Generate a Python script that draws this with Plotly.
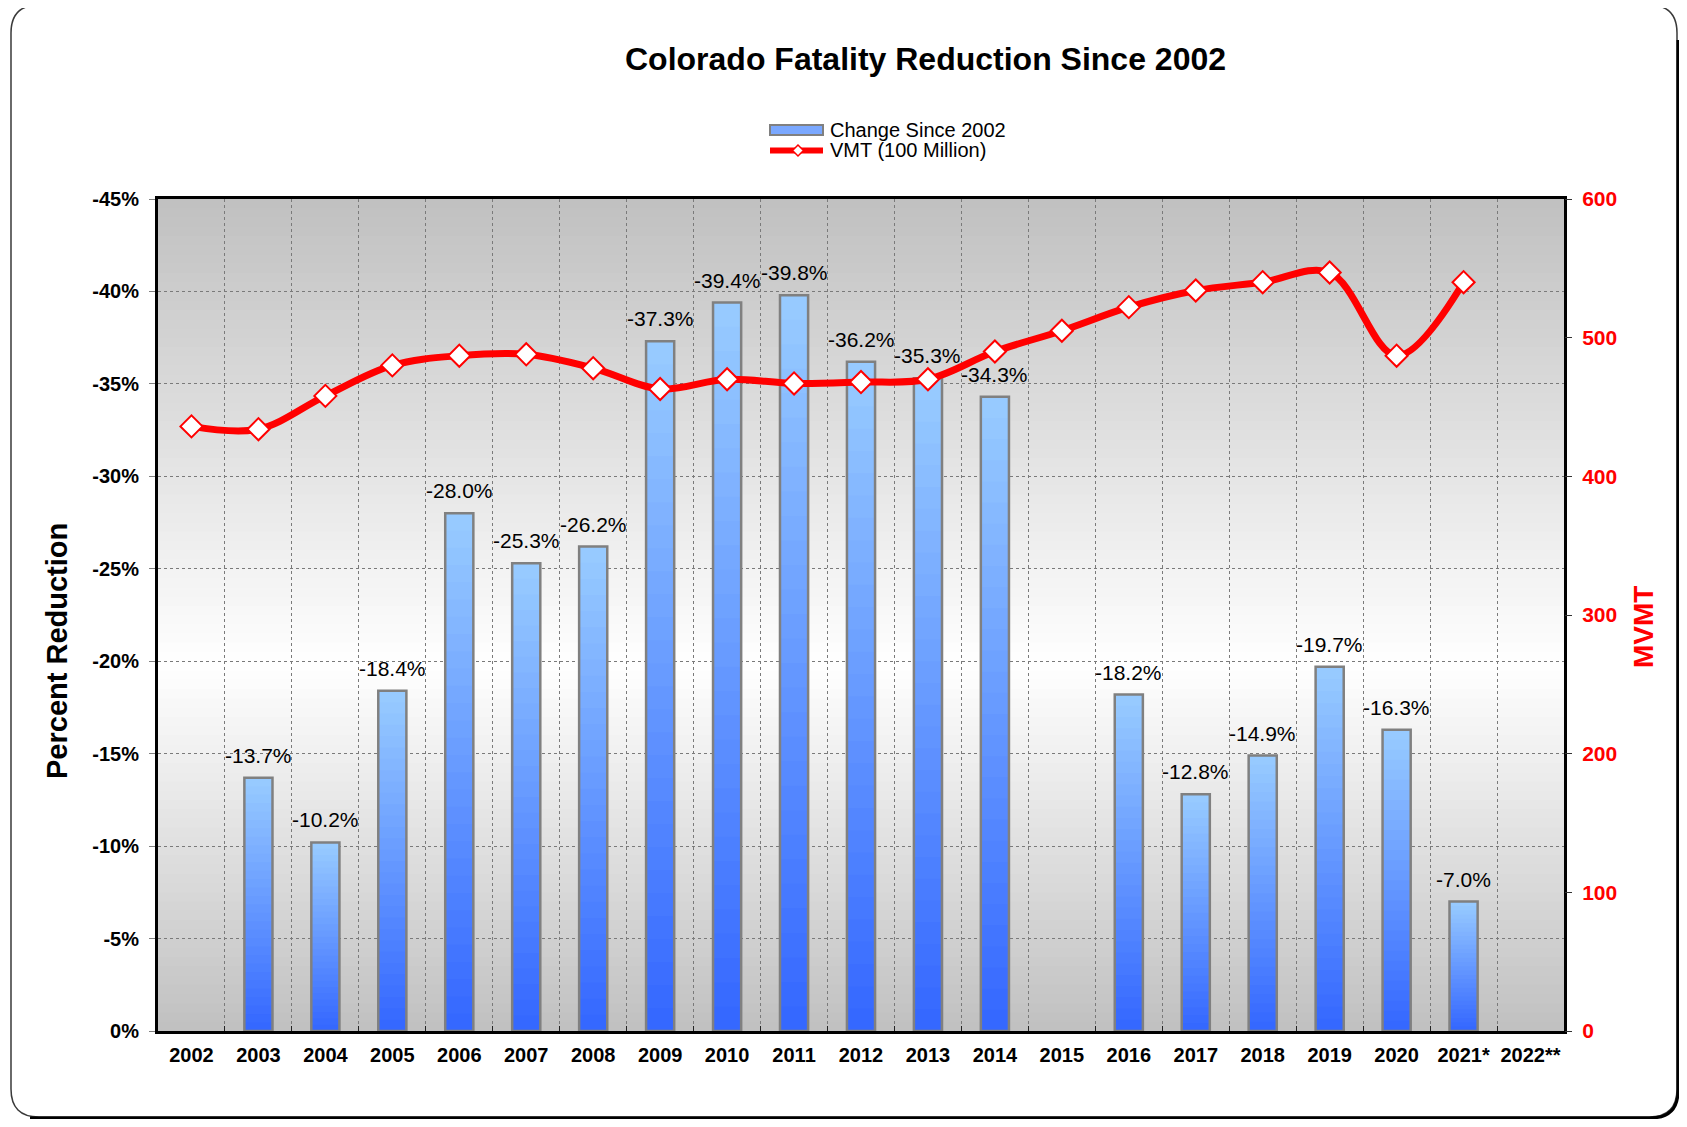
import plotly.graph_objects as go

# data
years = ["2002", "2003", "2004", "2005", "2006", "2007", "2008", "2009", "2010", "2011",
         "2012", "2013", "2014", "2015", "2016", "2017", "2018", "2019", "2020", "2021*", "2022**"]
change_since_2002 = [None, -13.7, -10.2, -18.4, -28.0, -25.3, -26.2, -37.3, -39.4, -39.8,
                     -36.2, -35.3, -34.3, None, -18.2, -12.8, -14.9, -19.7, -16.3, -7.0, None]
vmt_100m = [436, 434, 458, 480, 487, 488, 478, 463, 470, 467,
            468, 470, 490, 505, 522, 534, 540, 547, 487, 540, None]

pct_tick_vals = [0, -5, -10, -15, -20, -25, -30, -35, -40, -45]
pct_tick_text = ["0%", "-5%", "-10%", "-15%", "-20%", "-25%", "-30%", "-35%", "-40%", "-45%"]
mvmt_tick_vals = [0, 100, 200, 300, 400, 500, 600]

FONT = "Liberation Sans, Arial, sans-serif"
PAGE_W, PAGE_H = 1687, 1127
BODY = 8                             # default page margin around the figure
W, H = PAGE_W - 2 * BODY, PAGE_H - 2 * BODY
L, R, T, B = 158, 1564, 199, 1031    # plot area in screen pixels


def px_x(p):
    return (p - L) / (R - L)


def px_y(p):
    return (B - p) / (B - T)


def mix(c0, c1, t):
    return "rgb(%d,%d,%d)" % tuple(round(a + (b - a) * t) for a, b in zip(c0, c1))


fig = go.Figure()

# bars with a vertical gradient (light at top, dark at bottom), drawn as overlaid slices
bar_top, bar_bottom = (153, 204, 255), (51, 102, 255)
n_slices = 30
for k in range(n_slices, 0, -1):
    fig.add_trace(go.Bar(
        x=years,
        y=[None if v is None else v * k / n_slices for v in change_since_2002],
        marker=dict(color=mix(bar_bottom, bar_top, (k - 0.5) / n_slices), line=dict(width=0)),
        showlegend=False, hoverinfo="skip"
    ))
fig.add_trace(go.Bar(
    x=years, y=change_since_2002, name="Change Since 2002",
    marker=dict(color="rgba(0,0,0,0)", line=dict(color="#808080", width=2.5)),
    showlegend=False,
    hovertemplate="%{x}: %{y:.1f}%<extra></extra>"
))

fig.add_trace(go.Scatter(
    x=years, y=vmt_100m, name="VMT (100 Million)", yaxis="y2",
    mode="lines+markers",
    line=dict(color="#ff0000", width=7, shape="spline", smoothing=1.0),
    marker=dict(symbol="diamond", size=17, color="white", line=dict(color="#ff0000", width=2)),
    showlegend=False
))

annotations = []
for i, v in enumerate(change_since_2002):
    if v is None:
        continue
    annotations.append(dict(
        x=i, y=v, xref="x", yref="y", text="%.1f%%" % v, showarrow=False,
        yanchor="bottom", yshift=9, font=dict(family=FONT, size=21, color="black")
    ))

# title and axis titles
annotations.append(dict(x=px_x(925), y=px_y(59), xref="paper", yref="paper",
                        text="<b>Colorado Fatality Reduction Since 2002</b>", showarrow=False,
                        xanchor="center", yanchor="middle",
                        font=dict(family=FONT, size=32, color="black")))
annotations.append(dict(x=px_x(57), y=px_y(651), xref="paper", yref="paper",
                        text="<b>Percent Reduction</b>", showarrow=False, textangle=-90,
                        xanchor="center", yanchor="middle",
                        font=dict(family=FONT, size=29, color="black")))
annotations.append(dict(x=px_x(1643), y=px_y(627), xref="paper", yref="paper",
                        text="<b>MVMT</b>", showarrow=False, textangle=-90,
                        xanchor="center", yanchor="middle",
                        font=dict(family=FONT, size=28, color="#ff0000")))

# legend, drawn by hand
annotations.append(dict(x=px_x(828), y=px_y(130), xref="paper", yref="paper",
                        text="Change Since 2002", showarrow=False, xanchor="left", yanchor="middle",
                        font=dict(family=FONT, size=20, color="black")))
annotations.append(dict(x=px_x(828), y=px_y(150), xref="paper", yref="paper",
                        text="VMT (100 Million)", showarrow=False, xanchor="left", yanchor="middle",
                        font=dict(family=FONT, size=20, color="black")))

shapes = []
# plot background gradient: grey at top and bottom, white a little below the middle
bg_edge, bg_mid = (192, 192, 192), (255, 255, 255)
n_strips = 90
for i in range(n_strips):
    t = (i + 0.5) / n_strips          # 0 = top
    f = t / 0.56 if t < 0.56 else (1 - t) / 0.44
    y1 = 1 - i / n_strips
    y0 = 1 - (i + 1) / n_strips
    shapes.append(dict(type="rect", xref="x domain", yref="y domain", x0=0, x1=1,
                       y0=max(0, y0 - 0.002), y1=y1, layer="below",
                       fillcolor=mix(bg_edge, bg_mid, f), line=dict(width=0)))

shapes.append(dict(type="rect", xref="paper", yref="paper",
                   x0=px_x(770), x1=px_x(823), y0=px_y(135), y1=px_y(125),
                   fillcolor="#7aa8ff", line=dict(color="#808080", width=2)))
shapes.append(dict(type="line", xref="paper", yref="paper",
                   x0=px_x(770), x1=px_x(823), y0=px_y(150.5), y1=px_y(150.5),
                   line=dict(color="#ff0000", width=6)))
cx, cy, d = 798, 150.5, 5.5
shapes.append(dict(type="path", xref="paper", yref="paper",
                   path="M %f,%f L %f,%f L %f,%f L %f,%f Z" % (
                       px_x(cx - d), px_y(cy), px_x(cx), px_y(cy - d),
                       px_x(cx + d), px_y(cy), px_x(cx), px_y(cy + d)),
                   fillcolor="white", line=dict(color="#ff0000", width=1.5)))


def rounded_path(x0, y0, x1, y1, r):
    pts = [("M", x0 + r, y0), ("L", x1 - r, y0), ("Q", x1, y0, x1, y0 + r),
           ("L", x1, y1 - r), ("Q", x1, y1, x1 - r, y1), ("L", x0 + r, y1),
           ("Q", x0, y1, x0, y1 - r), ("L", x0, y0 + r), ("Q", x0, y0, x0 + r, y0)]
    out = []
    for p in pts:
        cmd, vals = p[0], p[1:]
        coords = []
        for j in range(0, len(vals), 2):
            coords.append("%f,%f" % (px_x(vals[j]), px_y(vals[j + 1])))
        out.append(cmd + " " + " ".join(coords))
    return " ".join(out) + " Z"


# outer rounded frame with a darker edge on the right and bottom
shapes.append(dict(type="path", xref="paper", yref="paper",
                   path=rounded_path(11, 5, 1677, 1117, 28),
                   line=dict(color="#3a3a3a", width=1.5)))
shapes.append(dict(type="path", xref="paper", yref="paper",
                   path="M %f,%f L %f,%f Q %f,%f %f,%f L %f,%f" % (
                       px_x(1678), px_y(40), px_x(1678), px_y(1091),
                       px_x(1678), px_y(1118), px_x(1650), px_y(1118),
                       px_x(30), px_y(1118)),
                   line=dict(color="black", width=3)))

fig.update_layout(
    width=W, height=H,
    margin=dict(l=L - BODY, r=W - (R - BODY), t=T - BODY, b=H - (B - BODY), autoexpand=False),
    paper_bgcolor="white", plot_bgcolor="#e0e0e0",
    barmode="overlay", bargap=0.58,
    font=dict(family=FONT, color="black"),
    showlegend=False,
    annotations=annotations, shapes=shapes,
    xaxis=dict(
        type="category", categoryorder="array", categoryarray=years,
        range=[-0.5, len(years) - 0.5], tickangle=0,
        tickson="boundaries", ticks="inside", ticklen=5, tickcolor="#222",
        showgrid=True, gridcolor="#7a7a7a", griddash="dot", gridwidth=1,
        showline=True, linecolor="black", linewidth=3, mirror=True,
        tickfont=dict(family=FONT, size=20, color="black", weight="bold"),
        ticklabelstandoff=4
    ),
    yaxis=dict(
        range=[0, -45], tickvals=pct_tick_vals, ticktext=pct_tick_text,
        ticks="outside", ticklen=6, tickcolor="#808080",
        showgrid=True, gridcolor="#7a7a7a", griddash="dot", gridwidth=1,
        zeroline=False,
        showline=True, linecolor="black", linewidth=3, mirror=True,
        tickfont=dict(family=FONT, size=20, color="black", weight="bold"),
        ticklabelstandoff=6
    ),
    yaxis2=dict(
        overlaying="y", side="right", range=[0, 600], tickvals=mvmt_tick_vals,
        ticks="outside", ticklen=7, tickcolor="#333",
        showgrid=False, zeroline=False, showline=False,
        tickfont=dict(family=FONT, size=21, color="#ff0000", weight="bold"),
        ticklabelstandoff=6
    ),
)

fig.write_html("out.html")
